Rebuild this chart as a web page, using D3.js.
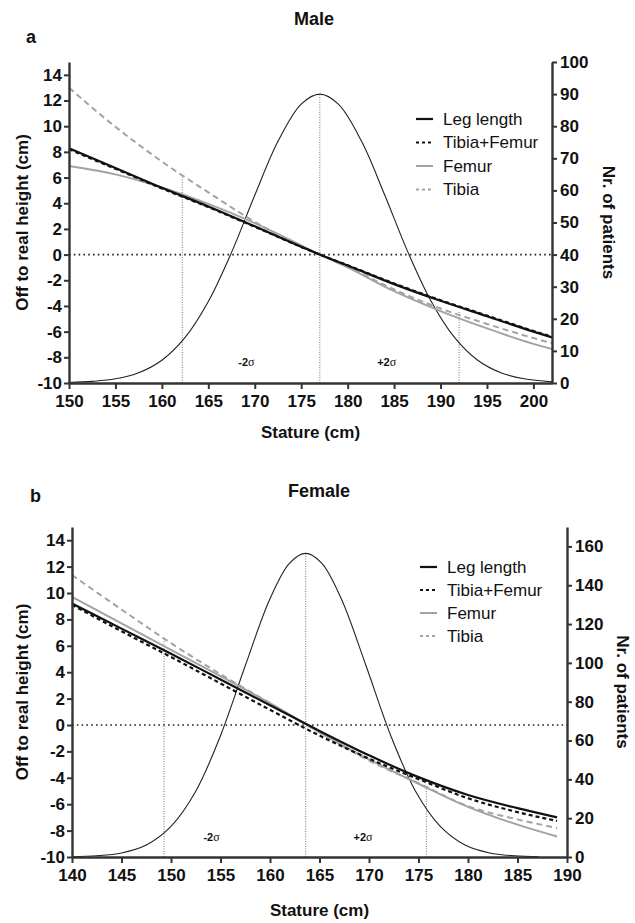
<!DOCTYPE html>
<html>
<head>
<meta charset="utf-8">
<script src="https://cdn.jsdelivr.net/npm/d3@7"></script>
<style>
  body { margin: 0; background: #fff; }
  text { font-family: "Liberation Sans", Arial, sans-serif; }
</style>
</head>
<body>
<script>
// ---- data ----
var seriesNames = ["Leg length", "Tibia+Femur", "Femur", "Tibia"];
var leftTicks = [-10, -8, -6, -4, -2, 0, 2, 4, 6, 8, 10, 12, 14];

// a: male
var maleStature = [150, 155, 160, 165, 170, 175, 177, 180, 185, 190, 195, 200, 202];
var maleLegLength = [8.28, 6.75, 5.2, 3.75, 2.2, 0.62, 0, -0.85, -2.3, -3.6, -4.8, -6.0, -6.45];
var maleTibiaFemur = [8.2, 6.68, 5.15, 3.7, 2.17, 0.6, 0, -0.83, -2.25, -3.55, -4.75, -5.95, -6.4];
var maleFemur = [6.9, 6.25, 5.22, 3.95, 2.45, 0.72, 0, -1.0, -2.85, -4.4, -5.75, -6.95, -7.35];
var maleTibia = [13.0, 9.95, 7.25, 4.85, 2.55, 0.6, 0, -0.95, -2.72, -4.2, -5.4, -6.5, -6.9];
var maleDistX = [150, 152.5, 155, 157.5, 160, 162.5, 165, 167.5, 170, 172.5, 175, 177, 179, 181.5, 184, 186.5, 189, 191.5, 194, 196.5, 199, 202];
var maleDistN = [0.15, 0.5, 1.3, 3.2, 7.1, 14.2, 25.4, 40.7, 58.5, 75.3, 86.9, 90, 86.9, 75.3, 58.5, 40.7, 25.4, 14.2, 7.1, 3.2, 1.3, 0.35];
var maleDropX = [162.2, 177, 192];
var maleDropTop = [6.0, 12.5, -4.45];
var maleXTicks = [150, 155, 160, 165, 170, 175, 180, 185, 190, 195, 200];
var maleRightTicks = [0, 10, 20, 30, 40, 50, 60, 70, 80, 90, 100];

// b: female
var femaleStature = [140, 145, 150, 155, 160, 165, 170, 175, 180, 185, 189];
var femaleLegLength = [9.2, 7.3, 5.4, 3.45, 1.5, -0.45, -2.3, -3.95, -5.3, -6.3, -7.0];
var femaleTibiaFemur = [9.1, 7.1, 5.15, 3.15, 1.15, -0.8, -2.55, -4.1, -5.55, -6.6, -7.27];
var femaleFemur = [9.7, 7.7, 5.7, 3.7, 1.65, -0.55, -2.6, -4.45, -6.2, -7.55, -8.45];
var femaleTibia = [11.36, 8.75, 6.2, 3.85, 1.65, -0.55, -2.7, -4.4, -6.15, -7.15, -7.8];
var femaleDistX = [140, 142.5, 145, 147.5, 150, 152.5, 155, 157.5, 160, 162, 163.6, 165.2, 167.2, 169.7, 172.2, 174.7, 177.2, 179.7, 182.2, 184.7, 187.2];
var femaleDistN = [0.16, 0.63, 2.1, 6.2, 15.8, 33.9, 62.5, 98.5, 133, 151.5, 156.4, 151.5, 133, 98.5, 62.5, 33.9, 15.8, 6.2, 2.1, 0.63, 0.16];
var femaleDropX = [149.3, 163.6, 175.8];
var femaleDropTop = [6.5, 12.95, -4.6];
var femaleXTicks = [140, 145, 150, 155, 160, 165, 170, 175, 180, 185, 190];
var femaleRightTicks = [0, 20, 40, 60, 80, 100, 120, 140, 160];

// ---- drawing ----
var svg = d3.select("body").append("svg")
    .attr("width", 635)
    .attr("height", 923);

var styles = [
  {color: "#111", dash: null, width: 2.2},
  {color: "#111", dash: "4,3", width: 2.2},
  {color: "#a3a3a3", dash: null, width: 2},
  {color: "#a3a3a3", dash: "6,4", width: 2}
];

// plain hyphen for negatives, like the original
var plain = function(d){ return String(d); };

function styleAxis(sel){
  sel.select(".domain").attr("stroke", "#333").attr("stroke-width", 2.4);
  sel.selectAll(".tick line").attr("stroke", "#333").attr("stroke-width", 2);
  sel.selectAll(".tick text")
    .attr("font-size", "17px")
    .attr("font-weight", "bold")
    .attr("fill", "#111")
    .style("font-family", "'Liberation Sans', Arial, sans-serif");
}

function drawPanel(p){
  var g = svg.append("g");
  var x = d3.scaleLinear().domain(p.xDomain).range([p.left, p.right]);
  var y = d3.scaleLinear().domain([-10, 15]).range([p.bottom, p.top]);
  var y2 = d3.scaleLinear().domain([0, p.rightMax]).range([p.bottom, p.top]);

  // vertical dotted lines at mean and +-2 sigma
  g.selectAll(".drop")
    .data(p.dropX)
    .enter()
    .append("line")
    .attr("x1", function(d){ return x(d); })
    .attr("x2", function(d){ return x(d); })
    .attr("y1", y(-10))
    .attr("y2", function(d, i){ return y(p.dropTop[i]); })
    .attr("stroke", "#8a8a8a")
    .attr("stroke-width", 1.2)
    .attr("stroke-dasharray", "1,1.5");

  // horizontal zero line
  g.append("line")
    .attr("x1", x(p.xDomain[0])).attr("x2", x(p.xDomain[1]))
    .attr("y1", y(0)).attr("y2", y(0))
    .attr("stroke", "#222")
    .attr("stroke-width", 1.6)
    .attr("stroke-dasharray", "1.6,3.2");

  // distribution of patients
  var distLine = d3.line()
    .x(function(d){ return x(d[0]); })
    .y(function(d){ return y2(d[1]); })
    .curve(d3.curveCatmullRom);
  g.append("path")
    .datum(d3.zip(p.distX, p.distN))
    .attr("d", distLine)
    .attr("fill", "none")
    .attr("stroke", "#222")
    .attr("stroke-width", 1.1);

  // regression curves
  var curve = d3.line()
    .x(function(d){ return x(d[0]); })
    .y(function(d){ return y(d[1]); })
    .curve(d3.curveMonotoneX);
  var order = [3, 2, 0, 1];
  order.forEach(function(k){
    var s = styles[k];
    g.append("path")
      .datum(d3.zip(p.stature, p.series[k]))
      .attr("d", curve)
      .attr("fill", "none")
      .attr("stroke", s.color)
      .attr("stroke-width", s.width)
      .attr("stroke-dasharray", s.dash);
  });

  // sigma labels
  g.selectAll(".sig")
    .data(p.sigma)
    .enter()
    .append("text")
    .attr("x", function(d){ return x(d.x); })
    .attr("y", function(d){ return y(d.y); })
    .attr("text-anchor", "middle")
    .attr("font-size", "11px")
    .attr("font-weight", "bold")
    .attr("fill", "#111")
    .each(function(d){
      var t = d3.select(this);
      t.append("tspan").text(d.label);
      t.append("tspan")
        .style("font-family", "'Liberation Serif', 'DejaVu Serif', serif")
        .attr("font-weight", "normal")
        .attr("font-size", "12px")
        .text("σ");
    });

  // axes
  g.append("g")
    .attr("transform", "translate(0," + p.bottom + ")")
    .call(d3.axisBottom(x).tickValues(p.xTicks).tickSize(6).tickSizeOuter(0).tickPadding(6).tickFormat(plain))
    .call(styleAxis);

  g.append("g")
    .attr("transform", "translate(" + p.left + ",0)")
    .call(d3.axisLeft(y).tickValues(leftTicks).tickSize(5).tickSizeOuter(0).tickPadding(2).tickFormat(plain))
    .call(styleAxis);

  g.append("g")
    .attr("transform", "translate(" + p.right + ",0)")
    .call(d3.axisRight(y2).tickValues(p.rightTicks).tickSize(5).tickSizeOuter(0).tickPadding(3).tickFormat(plain))
    .call(styleAxis);

  // axis titles
  var midY = (p.top + p.bottom) / 2;
  g.append("text")
    .attr("transform", "translate(" + p.leftTitleX + "," + midY + ") rotate(-90)")
    .attr("text-anchor", "middle")
    .attr("dy", "0.35em")
    .attr("font-size", "17px")
    .attr("font-weight", "bold")
    .attr("fill", "#111")
    .text("Off to real height (cm)");

  g.append("text")
    .attr("transform", "translate(" + p.rightTitleX + "," + midY + ") rotate(90)")
    .attr("text-anchor", "middle")
    .attr("dy", "0.35em")
    .attr("font-size", "17px")
    .attr("font-weight", "bold")
    .attr("fill", "#111")
    .text("Nr. of patients");

  g.append("text")
    .attr("x", (p.left + p.right) / 2)
    .attr("y", p.xTitleY)
    .attr("text-anchor", "middle")
    .attr("font-size", "17px")
    .attr("font-weight", "bold")
    .attr("fill", "#111")
    .text("Stature (cm)");

  // panel title and letter
  g.append("text")
    .attr("x", p.titleX).attr("y", p.titleY)
    .attr("text-anchor", "middle")
    .attr("font-size", "18px")
    .attr("font-weight", "bold")
    .attr("fill", "#111")
    .text(p.title);

  g.append("text")
    .attr("x", p.letterX).attr("y", p.letterY)
    .attr("font-size", "18px")
    .attr("font-weight", "bold")
    .attr("fill", "#111")
    .text(p.letter);

  // legend
  var lg = g.append("g");
  seriesNames.forEach(function(name, i){
    var s = styles[i];
    var ly = p.legendY + i * p.legendStep;
    lg.append("line")
      .attr("x1", p.legendX).attr("x2", p.legendX + 17)
      .attr("y1", ly).attr("y2", ly)
      .attr("stroke", s.color)
      .attr("stroke-width", s.width)
      .attr("stroke-dasharray", s.dash ? "3,3" : null);
    lg.append("text")
      .attr("x", p.legendX + 27)
      .attr("y", ly)
      .attr("dy", "0.35em")
      .attr("font-size", "17px")
      .attr("fill", "#111")
      .text(name);
  });
}

drawPanel({
  left: 69, right: 552, top: 62, bottom: 383,
  xDomain: [150, 202], rightMax: 100,
  xTicks: maleXTicks, rightTicks: maleRightTicks,
  stature: maleStature,
  series: [maleLegLength, maleTibiaFemur, maleFemur, maleTibia],
  distX: maleDistX, distN: maleDistN,
  dropX: maleDropX, dropTop: maleDropTop,
  sigma: [{x: 169.1, y: -8.7, label: "-2"}, {x: 184.2, y: -8.7, label: "+2"}],
  leftTitleX: 22, rightTitleX: 609, xTitleY: 438,
  title: "Male", titleX: 314, titleY: 25,
  letter: "a", letterX: 26, letterY: 43,
  legendX: 416, legendY: 119, legendStep: 23.5
});

drawPanel({
  left: 72, right: 567, top: 527, bottom: 857,
  xDomain: [140, 190], rightMax: 170,
  xTicks: femaleXTicks, rightTicks: femaleRightTicks,
  stature: femaleStature,
  series: [femaleLegLength, femaleTibiaFemur, femaleFemur, femaleTibia],
  distX: femaleDistX, distN: femaleDistN,
  dropX: femaleDropX, dropTop: femaleDropTop,
  sigma: [{x: 154.1, y: -8.8, label: "-2"}, {x: 169.4, y: -8.8, label: "+2"}],
  leftTitleX: 22, rightTitleX: 623, xTitleY: 916,
  title: "Female", titleX: 319, titleY: 497,
  letter: "b", letterX: 30, letterY: 502,
  legendX: 420, legendY: 567, legendStep: 23
});
</script>
</body>
</html>
